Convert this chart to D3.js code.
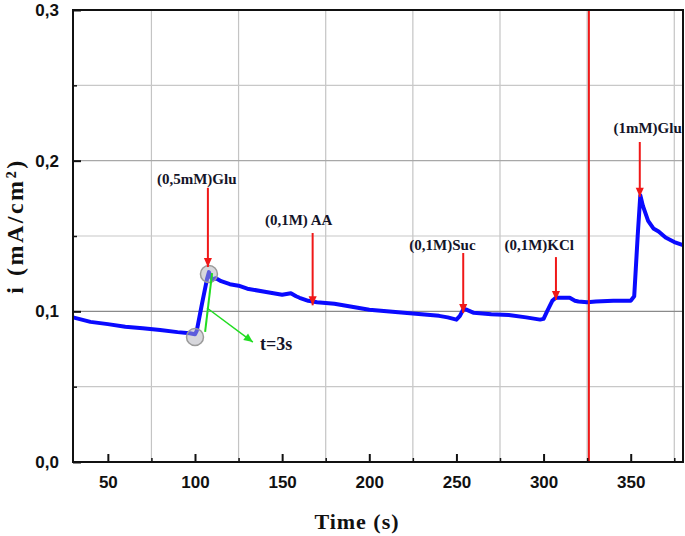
<!DOCTYPE html>
<html>
<head>
<meta charset="utf-8">
<script src="https://cdn.jsdelivr.net/npm/d3@7"></script>
<style>
  body { margin: 0; background: #fff; }
  .tick text { font-family: "Liberation Sans", Arial, sans-serif; font-weight: bold; font-size: 17px; fill: #111; }
  .axis-title { font-family: "Liberation Serif", "Times New Roman", serif; font-weight: bold; fill: #111; }
  .note { font-family: "Liberation Serif", "Times New Roman", serif; font-weight: bold; font-size: 15px; fill: #141428; }
</style>
</head>
<body>
<div class="chart"></div>
<script>
// chronoamperometry trace
var times = [30, 40, 50, 60, 70, 80, 90, 97, 100, 101, 104, 107, 108, 109, 110, 112, 115, 120, 125, 130,
  140, 150, 155, 158, 160, 165, 170, 180, 190, 200, 210, 220, 230, 240, 245, 250, 252, 254, 256, 260,
  265, 270, 280, 290, 298, 300, 302, 305, 307, 310, 315, 318, 320, 325, 330, 340, 350, 352, 354, 355.5,
  357, 360, 363, 366, 370, 375, 380];
var current = [0.096, 0.093, 0.0915, 0.0898, 0.0888, 0.0876, 0.0862, 0.0855, 0.0848, 0.087, 0.105, 0.122, 0.126, 0.123, 0.121, 0.122, 0.120, 0.118, 0.117, 0.115,
  0.113, 0.111, 0.112, 0.110, 0.109, 0.107, 0.106, 0.105, 0.103, 0.101, 0.100, 0.099, 0.098, 0.097, 0.096, 0.0945, 0.097, 0.1015, 0.101, 0.099,
  0.0985, 0.098, 0.0975, 0.096, 0.0945, 0.095, 0.100, 0.107, 0.109, 0.109, 0.109, 0.107, 0.1065, 0.106, 0.1065, 0.107, 0.107, 0.110, 0.150, 0.177,
  0.170, 0.160, 0.155, 0.153, 0.149, 0.146, 0.144];

var xTicks = [50, 100, 150, 200, 250, 300, 350];
var xMinor = [75, 125, 175, 225, 275, 325, 375];
var yTicks = [0, 0.1, 0.2, 0.3];
var yMinor = [0.05, 0.15, 0.25];

// injections: label, label position, arrow time, arrow top, arrow tip
var noteLabels = ["(0,5mM)Glu", "(0,1M) AA", "(0,1M)Suc", "(0,1M)KCl", "(1mM)Glu"];
var noteTimes = [101, 159.5, 242, 297.5, 359.7];
var noteValues = [0.1845, 0.1573, 0.1407, 0.1407, 0.2184];
var arrowTimes = [107.4, 167.5, 253.9, 307.1, 355.2];
var arrowTops = [0.182, 0.152, 0.1387, 0.136, 0.2124];
var arrowTips = [0.1294, 0.104, 0.0989, 0.1075, 0.176];

var markerLine = 326;
var circleTimes = [100, 108];
var circleValues = [0.083, 0.1248];
var riseLine = {t: [105.8, 109.8], v: [0.0863, 0.1254]};
var riseArrow = {t: [106.9, 133.2], v: [0.1022, 0.0796]};
var riseLabel = {text: "t=3s", t: 137.3, v: 0.0743};

var svgWidth = 685;
var svgHeight = 536;
var margin = {top: 10, right: 2, bottom: 74, left: 73};
var width = svgWidth - margin.left - margin.right;
var height = svgHeight - margin.top - margin.bottom;

var svg = d3.select(".chart").append("svg")
  .attr("width", svgWidth)
  .attr("height", svgHeight);

var defs = svg.append("defs");
[["redHead", "#f01818"], ["greenHead", "#22dd22"]].forEach(function(m) {
  defs.append("marker")
    .attr("id", m[0])
    .attr("markerUnits", "userSpaceOnUse")
    .attr("viewBox", "0 -5 10 10")
    .attr("refX", 10)
    .attr("refY", 0)
    .attr("markerWidth", 10)
    .attr("markerHeight", 9)
    .attr("orient", "auto")
    .append("path")
    .attr("d", "M0,-4.5L10,0L0,4.5Z")
    .attr("fill", m[1]);
});

var chartGroup = svg.append("g")
  .attr("transform", `translate(${margin.left}, ${margin.top})`);

var x = d3.scaleLinear().domain([30, 380]).range([0, width]);
var y = d3.scaleLinear().domain([0, 0.3]).range([height, 0]);

// grid
chartGroup.append("g").selectAll("line")
  .data(xMinor)
  .enter().append("line")
  .attr("x1", d => x(d)).attr("x2", d => x(d))
  .attr("y1", 0).attr("y2", height)
  .attr("stroke", "#c4c4c4").attr("stroke-width", 1.2);

chartGroup.append("g").selectAll("line")
  .data(yMinor.concat([0.1, 0.2]))
  .enter().append("line")
  .attr("x1", 0).attr("x2", width)
  .attr("y1", d => y(d)).attr("y2", d => y(d))
  .attr("stroke", d => (d === 0.1 ? "#8a8a8a" : d === 0.2 ? "#a8a8a8" : "#c8c8c8")).attr("stroke-width", 1.2);

// trace
var line = d3.line()
  .x((d, i) => x(times[i]))
  .y(d => y(d));

chartGroup.append("path")
  .datum(current)
  .attr("d", line)
  .attr("fill", "none")
  .attr("stroke", "#0a0aff")
  .attr("stroke-width", 4)
  .attr("stroke-linejoin", "round");

// vertical red marker
chartGroup.append("line")
  .attr("x1", x(markerLine)).attr("x2", x(markerLine))
  .attr("y1", 0).attr("y2", height)
  .attr("stroke", "#f01818").attr("stroke-width", 2);

// rise-time helpers
chartGroup.selectAll(".spot")
  .data(circleTimes)
  .enter().append("circle")
  .attr("class", "spot")
  .attr("cx", d => x(d))
  .attr("cy", (d, i) => y(circleValues[i]))
  .attr("r", 8.5)
  .attr("fill", "rgba(175,175,185,0.5)")
  .attr("stroke", "#9a9a9a")
  .attr("stroke-width", 1.5);

chartGroup.append("line")
  .attr("x1", x(riseLine.t[0])).attr("y1", y(riseLine.v[0]))
  .attr("x2", x(riseLine.t[1])).attr("y2", y(riseLine.v[1]))
  .attr("stroke", "#22dd22").attr("stroke-width", 2);

chartGroup.append("line")
  .attr("x1", x(riseArrow.t[0])).attr("y1", y(riseArrow.v[0]))
  .attr("x2", x(riseArrow.t[1])).attr("y2", y(riseArrow.v[1]))
  .attr("stroke", "#22dd22").attr("stroke-width", 1.5)
  .attr("marker-end", "url(#greenHead)");

chartGroup.append("text")
  .attr("class", "note")
  .attr("x", x(riseLabel.t))
  .attr("y", y(riseLabel.v))
  .style("font-size", "18px")
  .text(riseLabel.text);

// injection arrows
chartGroup.selectAll(".arrow")
  .data(arrowTimes)
  .enter().append("line")
  .attr("class", "arrow")
  .attr("x1", d => x(d)).attr("x2", d => x(d))
  .attr("y1", (d, i) => y(arrowTops[i]))
  .attr("y2", (d, i) => y(arrowTips[i]))
  .attr("stroke", "#f01818").attr("stroke-width", 2)
  .attr("marker-end", "url(#redHead)");

chartGroup.selectAll(".noteText")
  .data(noteLabels)
  .enter().append("text")
  .attr("class", "note")
  .attr("x", (d, i) => x(noteTimes[i]))
  .attr("y", (d, i) => y(noteValues[i]))
  .attr("text-anchor", "middle")
  .text(d => d);

// axes
var fmt = d => d3.format(".1f")(d).replace(".", ",");

chartGroup.append("g")
  .attr("transform", `translate(0, ${height})`)
  .call(d3.axisBottom(x).tickValues(xMinor).tickSize(-4).tickFormat(""))
  .call(g => g.select(".domain").remove())
  .selectAll("line").attr("stroke", "#111").attr("stroke-width", 1.5);

chartGroup.append("g")
  .call(d3.axisLeft(y).tickValues(yMinor).tickSize(-4).tickFormat(""))
  .call(g => g.select(".domain").remove())
  .selectAll("line").attr("stroke", "#111").attr("stroke-width", 1.5);

var xAxis = chartGroup.append("g")
  .attr("transform", `translate(0, ${height})`)
  .call(d3.axisBottom(x).tickValues(xTicks).tickSize(-8).tickPadding(14).tickFormat(d3.format("d")));
xAxis.select(".domain").remove();
xAxis.selectAll("line").attr("stroke", "#111").attr("stroke-width", 2);

var yAxis = chartGroup.append("g")
  .call(d3.axisLeft(y).tickValues(yTicks).tickSize(-8).tickPadding(14).tickFormat(fmt));
yAxis.select(".domain").remove();
yAxis.selectAll("line").attr("stroke", "#111").attr("stroke-width", 2);

// frame
chartGroup.append("rect")
  .attr("x", 0).attr("y", 0)
  .attr("width", width).attr("height", height)
  .attr("fill", "none")
  .attr("stroke", "#111")
  .attr("stroke-width", 2);

// titles
svg.append("text")
  .attr("class", "axis-title")
  .attr("x", 357)
  .attr("y", 529)
  .attr("text-anchor", "middle")
  .style("font-size", "22px")
  .style("letter-spacing", "1px")
  .text("Time (s)");

svg.append("text")
  .attr("class", "axis-title")
  .attr("transform", "translate(23, 226) rotate(-90)")
  .attr("text-anchor", "middle")
  .style("font-size", "24px")
  .style("letter-spacing", "2.5px")
  .text("i (mA/cm²)");
</script>
</body>
</html>
